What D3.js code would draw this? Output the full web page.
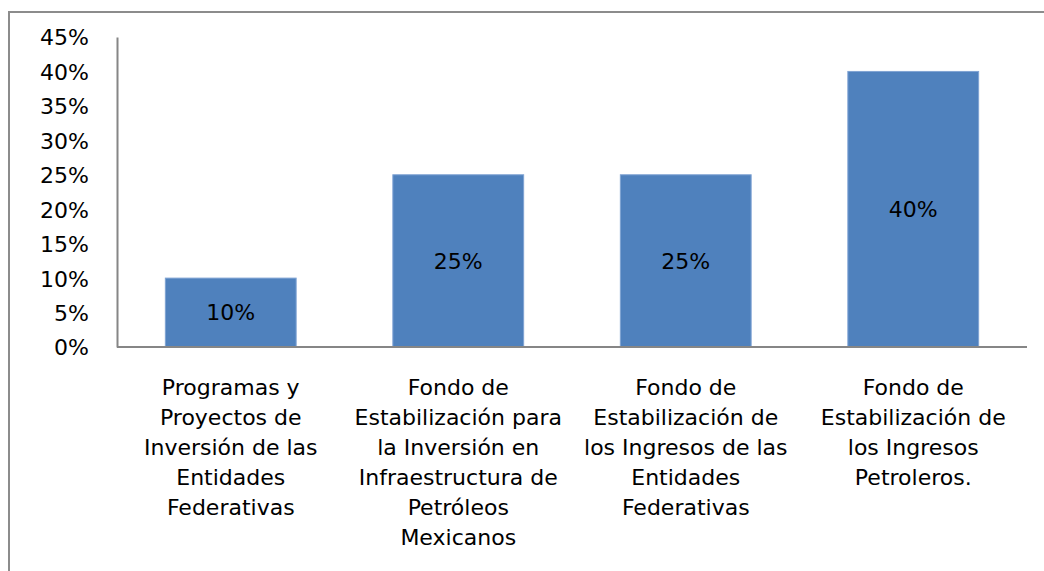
<!DOCTYPE html>
<html lang="es">
<head>
<meta charset="utf-8">
<title>Distribución</title>
<script src="https://cdnjs.cloudflare.com/ajax/libs/d3/7.8.5/d3.min.js"></script>
<style>
  body { margin: 0; background: #fff; }
  svg text { font-family: "DejaVu Sans", Verdana, sans-serif; fill: #000; }
  .tick line { display: none; }
</style>
</head>
<body>
<div id="chart"></div>
<script>
// categories (line breaks as in the original labels)
const categories = [
  ["Programas y", "Proyectos de", "Inversión de las", "Entidades", "Federativas"],
  ["Fondo de", "Estabilización para", "la Inversión en", "Infraestructura de", "Petróleos", "Mexicanos"],
  ["Fondo de", "Estabilización de", "los Ingresos de las", "Entidades", "Federativas"],
  ["Fondo de", "Estabilización de", "los Ingresos", "Petroleros."]
];
const values = [0.10, 0.25, 0.25, 0.40];
const yTicks = [0, 0.05, 0.10, 0.15, 0.20, 0.25, 0.30, 0.35, 0.40, 0.45];

const width = 1044, height = 571;
const margin = {left: 117, right: 17, top: 37, bottom: 224};
const fs = "22px";

const svg = d3.select("#chart").append("svg")
  .attr("width", width)
  .attr("height", height);

// outer chart border
svg.append("rect")
  .attr("x", 9).attr("y", 12)
  .attr("width", width + 20).attr("height", height + 20)
  .attr("fill", "none")
  .attr("stroke", "#8c8c8c")
  .attr("stroke-width", 2);

const ids = categories.map((d, i) => i);
const x = d3.scaleBand()
  .domain(ids)
  .range([margin.left, width - margin.right])
  .paddingInner(0.425)
  .paddingOuter(0.2125);

const y = d3.scaleLinear()
  .domain([0, 0.45])
  .range([height - margin.bottom, margin.top]);

// bars
svg.append("g").selectAll("rect")
  .data(values)
  .join("rect")
  .attr("x", (d, i) => x(i))
  .attr("y", d => y(d))
  .attr("width", x.bandwidth())
  .attr("height", d => y(0) - y(d))
  .attr("fill", "#4f81bd")
  .attr("stroke", "#7fa3d3")
  .attr("stroke-width", 1);

// data labels
svg.append("g").selectAll("text")
  .data(values)
  .join("text")
  .attr("x", (d, i) => x(i) + x.bandwidth() / 2)
  .attr("y", d => (y(d) + y(0)) / 2)
  .attr("text-anchor", "middle")
  .attr("dy", "0.36em")
  .style("font-size", fs)
  .text(d => d3.format(".0%")(d));

// y axis
const yAxis = d3.axisLeft(y)
  .tickValues(yTicks)
  .tickFormat(d3.format(".0%"))
  .tickSize(0)
  .tickPadding(28);
const gy = svg.append("g")
  .attr("transform", `translate(${margin.left},0)`)
  .call(yAxis);
gy.select(".domain").attr("stroke", "#868686").attr("stroke-width", 2);
gy.selectAll("text").style("font-size", fs).attr("dy", "0.36em");

// x axis
const xAxis = d3.axisBottom(x).tickSize(0).tickFormat("");
const gx = svg.append("g")
  .attr("transform", `translate(0,${y(0)})`)
  .call(xAxis);
gx.select(".domain")
  .attr("d", `M${margin.left},0H${width - margin.right}`)
  .attr("stroke", "#868686").attr("stroke-width", 2);

// category labels, multi-line
gx.selectAll(".tick").each(function(i) {
  const t = d3.select(this).append("text")
    .attr("text-anchor", "middle")
    .attr("y", 48)
    .style("font-size", fs);
  categories[i].forEach((line, k) => {
    t.append("tspan").attr("x", 0).attr("dy", k === 0 ? 0 : 30).text(line);
  });
});
</script>
</body>
</html>
